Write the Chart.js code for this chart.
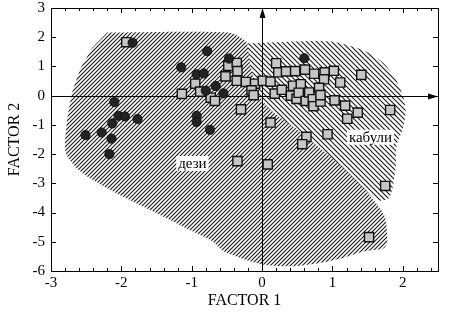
<!DOCTYPE html>
<html>
<head>
<meta charset="utf-8">
<script src="https://cdn.jsdelivr.net/npm/chart.js@4.4.0/dist/chart.umd.min.js"></script>
<style>
  body { margin: 0 ; background: #fff ; }
  #factorChart { display: block ; }
</style>
</head>
<body>
<canvas id="factorChart" width="450" height="318"></canvas>
<script>
// ---------------- Data -------------------------------------------------
// дези (circles)
const desiX = [ -1.84, -0.78, -1.15, -0.93, -0.83, -0.80, -0.66, -0.55, -0.47, 0.60, -2.10,
                -2.04, -1.95, -1.77, -2.13, -2.51, -2.28, -2.14, -2.17, -0.93, -0.93, -0.74 ] ;
const desiY = [ 1.81, 1.52, 0.97, 0.73, 0.76, 0.17, 0.33, 0.08, 1.27, 1.28, -0.22,
                -0.69, -0.71, -0.80, -0.95, -1.35, -1.26, -1.47, -2.00, -0.69, -0.90, -1.17 ] ;

// кабули (squares)
const kabuliX = [ -1.93, -1.14, -0.95, -0.88, -0.73, -0.67, -0.48, -0.36, -0.35, -0.52, -0.36,
                  -0.23, -0.10, 0.01, 0.12, -0.15, -0.12, -0.30, 0.12, 0.20, 0.23, 0.34,
                  0.47, 0.61, 0.74, 0.89, 1.02, 0.88, 1.11, 1.41, 0.44, 0.55, 0.81,
                  0.18, 0.28, 0.41, 0.49, 0.52, 0.62, 0.67, 0.72, 0.73, 0.83, 0.83,
                  1.03, 1.18, 1.36, 1.21, 1.82, 0.63, 0.57, 0.93, -0.35, 0.08, 1.75, 1.52 ] ;
const kabuliY = [ 1.83, 0.06, 0.41, 0.14, -0.07, -0.18, 1.02, 1.12, 0.84, 0.66, 0.51,
                  0.47, 0.41, 0.51, 0.48, 0.18, 0.02, -0.47, -0.92, 1.11, 0.80, 0.83,
                  0.84, 0.89, 0.75, 0.80, 0.85, 0.56, 0.45, 0.71, 0.34, 0.39, 0.27,
                  0.07, 0.20, 0.00, -0.11, 0.10, -0.18, 0.11, -0.12, -0.36, -0.20, 0.02,
                  -0.16, -0.34, -0.58, -0.79, -0.49, -1.41, -1.66, -1.32, -2.24, -2.35, -3.09, -4.84 ] ;

// hatched group outlines
const desiRegionX = [ -2.20, -0.47, -0.25, -0.01, 0.52, 1.54, 1.74, 1.78, 1.73, 1.44, 1.12, 0.78, 0.41,
                      -0.01, -0.54, -0.71, -1.08, -1.56, -1.93, -2.31, -2.59, -2.79, -2.78, -2.71, -2.59, -2.42 ] ;
const desiRegionY = [ 2.16, 2.16, 1.89, 1.20, -0.52, -3.44, -4.12, -4.98, -5.22, -5.33, -5.57, -5.74, -5.84,
                      -5.77, -5.33, -4.98, -4.54, -3.95, -3.51, -3.02, -2.58, -1.96, -1.03, 0.00, 0.86, 1.62 ] ;
const kabuliRegionX = [ -0.21, 0.95, 1.44, 1.73, 1.91, 2.01, 2.04, 2.00, 1.91, 1.90, 1.86, 1.80, 1.63,
                        1.09, 0.52, 0.10, -0.07, -0.18 ] ;
const kabuliRegionY = [ 1.79, 1.86, 1.55, 1.10, 0.52, -0.07, -0.58, -1.13, -1.72, -2.41, -3.09, -3.51, -3.57,
                        -2.34, -1.20, -0.45, 0.17, 1.20 ] ;

const regionLabels = [ 'дези', 'кабули' ] ;
const regionLabelX = [ -0.99, 1.54 ] ;
const regionLabelY = [ -2.34, -1.44 ] ;

const xTicks = [ -3, -2, -1, 0, 1, 2 ] ;
const yTicks = [ 3, 2, 1, 0, -1, -2, -3, -4, -5, -6 ] ;
const xTitle = 'FACTOR 1' ;
const yTitle = 'FACTOR 2' ;

// ---------------- Helpers ----------------------------------------------
const FONT = '"Liberation Serif", "Times New Roman", serif' ;
const canvas = document.getElementById( 'factorChart' ) ;
const ctx = canvas.getContext( '2d' ) ;

function toPoints( xs, ys ) {
    return xs.map( ( x, i ) => ( { x: x, y: ys[ i ] } ) ) ;
}

// diagonal hatch pattern, dir > 0 is '/', dir < 0 is '\'
function hatch( dir, step, bg ) {
    const tile = document.createElement( 'canvas' ) ;
    tile.width = step ; tile.height = step ;
    const g = tile.getContext( '2d' ) ;
    if( bg ) { g.fillStyle = bg ; g.fillRect( 0, 0, step, step ) ; }
    g.strokeStyle = '#1a1a1a' ;
    g.lineWidth = 1.1 ;
    g.beginPath() ;
    if( dir > 0 ) {
        g.moveTo( -1, step + 1 ) ; g.lineTo( step + 1, -1 ) ;
        g.moveTo( -1, 1 ) ; g.lineTo( 1, -1 ) ;
        g.moveTo( step - 1, step + 1 ) ; g.lineTo( step + 1, step - 1 ) ;
    } else {
        g.moveTo( -1, -1 ) ; g.lineTo( step + 1, step + 1 ) ;
        g.moveTo( step - 1, -1 ) ; g.lineTo( step + 1, 1 ) ;
        g.moveTo( -1, step - 1 ) ; g.lineTo( 1, step + 1 ) ;
    }
    g.stroke() ;
    return ctx.createPattern( tile, 'repeat' ) ;
}

// axes through the origin, drawn over the hatching but under the markers
const originAxesPlugin = {
    id: 'originAxes',
    afterDatasetDraw( chart, args ) {
        if( chart.data.datasets[ args.index ].label !== 'kabuliRegion' ) return ;
        const c = chart.ctx, a = chart.chartArea ;
        const x0 = Math.round( chart.scales.x.getPixelForValue( 0 ) ) + 0.5 ;
        const y0 = Math.round( chart.scales.y.getPixelForValue( 0 ) ) + 0.5 ;
        c.save() ;
        c.strokeStyle = '#000' ; c.fillStyle = '#000' ; c.lineWidth = 1 ;
        c.beginPath() ;
        c.moveTo( a.left, y0 ) ; c.lineTo( a.right - 4, y0 ) ;
        c.moveTo( x0, a.bottom ) ; c.lineTo( x0, a.top + 4 ) ;
        c.stroke() ;
        c.beginPath() ;
        c.moveTo( a.right, y0 ) ; c.lineTo( a.right - 10, y0 - 3 ) ; c.lineTo( a.right - 10, y0 + 3 ) ;
        c.closePath() ; c.fill() ;
        c.beginPath() ;
        c.moveTo( x0, a.top ) ; c.lineTo( x0 - 3, a.top + 10 ) ; c.lineTo( x0 + 3, a.top + 10 ) ;
        c.closePath() ; c.fill() ;
        c.restore() ;
    }
} ;

// frame with inward ticks, plus the group labels
const framePlugin = {
    id: 'frame',
    afterDatasetsDraw( chart ) {
        const c = chart.ctx, a = chart.chartArea ;
        const sx = chart.scales.x, sy = chart.scales.y ;
        c.save() ;
        c.strokeStyle = '#000' ; c.lineWidth = 1 ;
        c.strokeRect( Math.round( a.left ) + 0.5, Math.round( a.top ) + 0.5,
                      Math.round( a.right - a.left ), Math.round( a.bottom - a.top ) ) ;
        c.beginPath() ;
        for( let i = 0 ; i <= 27 ; i++ ) {
            const v = -3 + i * 0.2 ;
            const px = Math.round( sx.getPixelForValue( v ) ) + 0.5 ;
            const len = ( i % 5 === 0 ) ? 5 : 3 ;
            c.moveTo( px, a.bottom ) ; c.lineTo( px, a.bottom - len ) ;
            c.moveTo( px, a.top ) ; c.lineTo( px, a.top + len ) ;
        }
        yTicks.forEach( v => {
            const py = Math.round( sy.getPixelForValue( v ) ) + 0.5 ;
            c.moveTo( a.left, py ) ; c.lineTo( a.left + 5, py ) ;
            c.moveTo( a.right, py ) ; c.lineTo( a.right - 5, py ) ;
        } ) ;
        c.stroke() ;

        c.font = '15px ' + FONT ;
        c.textAlign = 'center' ;
        c.textBaseline = 'middle' ;
        regionLabels.forEach( ( txt, i ) => {
            const px = sx.getPixelForValue( regionLabelX[ i ] ) ;
            const py = sy.getPixelForValue( regionLabelY[ i ] ) ;
            const w = c.measureText( txt ).width ;
            c.fillStyle = '#fff' ;
            c.fillRect( px - w / 2 - 2, py - 8, w + 4, 15 ) ;
            c.fillStyle = '#000' ;
            c.fillText( txt, px, py ) ;
        } ) ;
        c.restore() ;
    }
} ;

// ---------------- Chart ------------------------------------------------
new Chart( ctx, {
    type: 'scatter',
    data: {
        datasets: [ {
            type: 'line',
            label: 'desiRegion',
            data: toPoints( desiRegionX, desiRegionY ),
            fill: 'shape',
            backgroundColor: hatch( 1, 4, null ),
            borderColor: 'transparent',
            borderWidth: 0,
            pointRadius: 0,
            tension: 0.25,
            order: 10
        }, {
            type: 'line',
            label: 'kabuliRegion',
            data: toPoints( kabuliRegionX, kabuliRegionY ),
            fill: 'shape',
            backgroundColor: hatch( -1, 5, '#fff' ),
            borderColor: 'transparent',
            borderWidth: 0,
            pointRadius: 0,
            tension: 0.25,
            order: 9
        }, {
            label: 'кабули',
            data: toPoints( kabuliX, kabuliY ),
            pointStyle: 'rect',
            pointRadius: 6.5,
            backgroundColor: '#c6c6c6',
            borderColor: '#111',
            borderWidth: 1.4,
            order: 2
        }, {
            label: 'дези',
            data: toPoints( desiX, desiY ),
            pointStyle: 'circle',
            pointRadius: 4.6,
            backgroundColor: '#222',
            borderColor: '#111',
            borderWidth: 1,
            order: 1
        } ]
    },
    options: {
        responsive: false,
        animation: false,
        layout: { padding: { top: 8, right: 12, left: 0, bottom: 0 } },
        plugins: { legend: { display: false }, tooltip: { enabled: false } },
        scales: {
            x: {
                type: 'linear', min: -3, max: 2.5,
                grid: { display: false, drawTicks: false }, border: { display: false },
                afterBuildTicks: s => { s.ticks = xTicks.map( v => ( { value: v } ) ) ; },
                afterFit: s => { s.height = 47 ; s.paddingLeft = 0 ; s.paddingRight = 0 ; },
                ticks: { font: { family: FONT, size: 15 }, color: '#000', padding: 3, maxRotation: 0 },
                title: { display: true, text: xTitle, color: '#000',
                         font: { family: FONT, size: 16 }, padding: { top: 0, bottom: 8 } }
            },
            y: {
                type: 'linear', min: -6, max: 3,
                grid: { display: false, drawTicks: false }, border: { display: false },
                afterBuildTicks: s => { s.ticks = yTicks.map( v => ( { value: v } ) ) ; },
                afterFit: s => { s.width = 51 ; s.paddingTop = 0 ; s.paddingBottom = 0 ; },
                ticks: { font: { family: FONT, size: 15 }, color: '#000', padding: 6 },
                title: { display: true, text: yTitle, color: '#000',
                         font: { family: FONT, size: 16 }, padding: { top: 5, bottom: 0 } }
            }
        }
    },
    plugins: [ originAxesPlugin, framePlugin ]
} ) ;
</script>
</body>
</html>
